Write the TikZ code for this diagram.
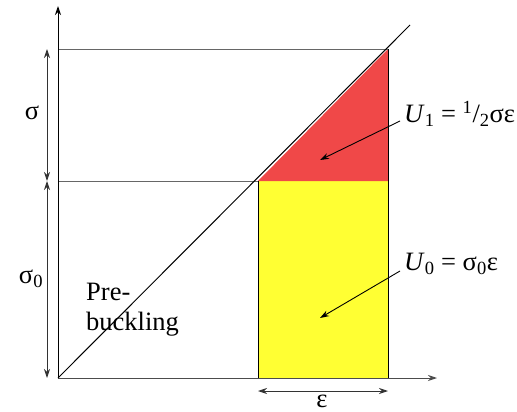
\documentclass[tikz,border=0pt]{standalone}
\usepackage{fontspec}
\setmainfont{Liberation Serif}
\newfontfamily\lserif{Liberation Serif}
\usetikzlibrary{arrows.meta}
\definecolor{myred}{RGB}{240,72,72}
\definecolor{myyellow}{RGB}{255,255,51}
\tikzset{
  axis/.style={line width=1pt,-{Stealth[length=9pt,width=6pt]}},
  thin/.style={line width=0.8pt,gray!80!black},
  dim/.style={line width=0.9pt,gray!40!black,{Stealth[length=9pt,width=6pt]}-{Stealth[length=9pt,width=6pt]}},
  ptr/.style={line width=0.9pt,-{Stealth[length=9pt,width=6pt]}},
  lbl/.style={font=\lserif\fontsize{26.5}{30}\selectfont,inner sep=0pt}
}
\begin{document}
\begin{tikzpicture}[x=1pt,y=-1pt]
\useasboundingbox (0,0) rectangle (517,412);
\coordinate (O) at (58,378);
\coordinate (A) at (258,181);
\coordinate (B) at (388,49);
\coordinate (C) at (388,181);
\coordinate (D) at (258,378);
\coordinate (E) at (388,378);
\fill[myyellow] (A) rectangle (E);
\fill[myred] (A) -- (B) -- (C) -- cycle;
\draw[line width=1pt] (A) -- (D);
\draw[line width=1pt] (B) -- (E);
\draw[thin] (58,49) -- (B);
\draw[thin] (58,181) -- (A);
\coordinate (xt) at (437,378);
\coordinate (yt) at (58,6);
\draw[axis,gray!60!black] (O) -- (xt);
\draw[axis] (O) -- (yt);
\draw[line width=1pt] (O) -- (410,25);
% dimension arrows
\coordinate (s1) at (47,49);
\coordinate (s2) at (47,181);
\coordinate (s3) at (47,378);
\draw[dim] (s1) -- (s2);
\draw[dim] (s2) -- (s3);
\coordinate (e1) at (258,391);
\coordinate (e2) at (388,391);
\draw[dim] (e1) -- (e2);
\node[lbl] (sig) at (32,113) {σ};
\node[lbl] (sig0) at (31,279) {σ\textsubscript{0}};
\node[lbl] (eps) at (322,401) {ε};
\node[lbl,align=left,anchor=north west] (pre) at (86,283) {Pre-\\buckling};
\node[lbl,anchor=west] (u1) at (404,114) {\textit{U}\textsubscript{1} = \textsuperscript{1}/\textsubscript{2}σε};
\node[lbl,anchor=west] (u0) at (404,264) {\textit{U}\textsubscript{0} = σ\textsubscript{0}ε};
\draw[ptr] (u1.west) ++(-4,7) -- (320,160);
\draw[ptr] (u0.west) ++(-4,7) -- (320,318);
\end{tikzpicture}
\end{document}
